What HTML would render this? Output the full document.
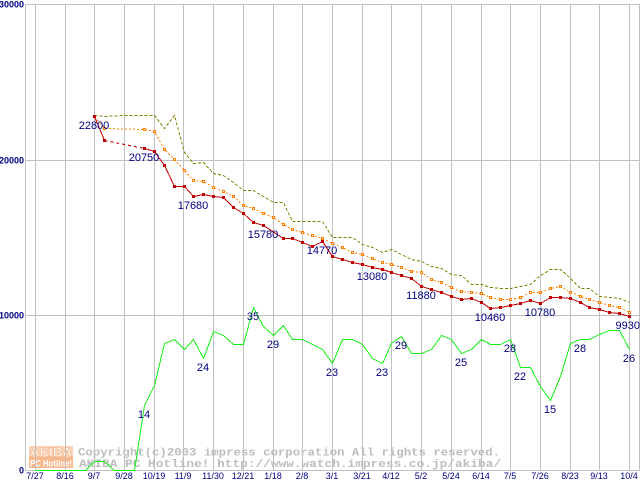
<!DOCTYPE html>
<html>
<head>
<meta charset="utf-8">
<style>
html,body{margin:0;padding:0;background:#fff;}
svg{display:block;}
</style>
</head>
<body>
<svg width="640" height="480" viewBox="0 0 640 480" xmlns="http://www.w3.org/2000/svg">
<defs>
<marker id="mr" markerWidth="3" markerHeight="3" refX="1.5" refY="1.5" markerUnits="userSpaceOnUse" overflow="visible">
<rect x="0" y="0" width="3" height="3" fill="#c00000" shape-rendering="crispEdges"/>
</marker>
<marker id="mo" markerWidth="3" markerHeight="3" refX="1.5" refY="1.5" markerUnits="userSpaceOnUse" overflow="visible">
<rect x="0" y="0" width="3" height="3" fill="#ff8000" shape-rendering="crispEdges"/>
<rect x="1" y="1" width="1" height="1" fill="#ffffff" shape-rendering="crispEdges"/>
</marker>
</defs>
<rect width="640" height="480" fill="#fff"/>

<!-- watermark -->
<rect x="29" y="446" width="44" height="11" fill="#fcd3b4"/>
<rect x="29" y="457" width="44" height="11" fill="#f8b88e"/>
<text x="30" y="456.5" font-family="Liberation Sans, sans-serif" font-weight="bold" font-size="12.5" fill="#fff" stroke="#f0a878" stroke-width="0.5" textLength="42" lengthAdjust="spacingAndGlyphs">AKIBA</text>
<text x="30" y="466.5" font-family="Liberation Sans, sans-serif" font-weight="bold" font-size="9" fill="#fff" textLength="42" lengthAdjust="spacingAndGlyphs">PC Hotline!</text>
<text x="78" y="455.5" font-family="Liberation Mono, monospace" font-weight="bold" font-size="11" fill="#bdbdbd" textLength="422" lengthAdjust="spacingAndGlyphs">Copyright(c)2003 impress corporation All rights reserved.</text>
<text x="79" y="467" font-family="Liberation Mono, monospace" font-weight="bold" font-size="11" fill="#bdbdbd" textLength="422" lengthAdjust="spacingAndGlyphs">AKIBA PC Hotline!  http://www.watch.impress.co.jp/akiba/</text>

<g transform="translate(0.5,0.5)" shape-rendering="crispEdges" stroke="#c0c0c0" stroke-width="1" fill="none">
<line x1="25" y1="4" x2="640" y2="4"/>
<line x1="25" y1="160" x2="640" y2="160"/>
<line x1="25" y1="315" x2="640" y2="315"/>
<line x1="25" y1="470" x2="640" y2="470"/>
<line x1="25" y1="4" x2="25" y2="470"/>
<line x1="639" y1="4" x2="639" y2="470"/>
<line x1="35" y1="4" x2="35" y2="470"/>
<line x1="65" y1="4" x2="65" y2="470"/>
<line x1="94" y1="4" x2="94" y2="470"/>
<line x1="124" y1="4" x2="124" y2="470"/>
<line x1="154" y1="4" x2="154" y2="470"/>
<line x1="183" y1="4" x2="183" y2="470"/>
<line x1="213" y1="4" x2="213" y2="470"/>
<line x1="243" y1="4" x2="243" y2="470"/>
<line x1="273" y1="4" x2="273" y2="470"/>
<line x1="302" y1="4" x2="302" y2="470"/>
<line x1="332" y1="4" x2="332" y2="470"/>
<line x1="362" y1="4" x2="362" y2="470"/>
<line x1="391" y1="4" x2="391" y2="470"/>
<line x1="421" y1="4" x2="421" y2="470"/>
<line x1="451" y1="4" x2="451" y2="470"/>
<line x1="481" y1="4" x2="481" y2="470"/>
<line x1="510" y1="4" x2="510" y2="470"/>
<line x1="540" y1="4" x2="540" y2="470"/>
<line x1="570" y1="4" x2="570" y2="470"/>
<line x1="599" y1="4" x2="599" y2="470"/>
<line x1="629" y1="4" x2="629" y2="470"/>
</g>

<g transform="translate(0.5,0.5)" fill="none" stroke-width="1" shape-rendering="crispEdges">
<!-- green count -->
<polyline stroke="#11f011" points="35,470 85,470 94,461 104,461 114,470 134,470 144,405 154,385 164,343 174,339 184,349 193,339 203,358 213,331 223,335 233,344 243,344 253,307 263,326 273,335 283,325 292,339 302,339 312,344 322,349 332,363 342,339 352,339 362,344 372,358 382,363 391,343 401,336 411,353 421,353 431,349 441,335 451,339 461,353 471,349 481,339 490,344 500,344 510,339 520,367 530,367 540,386 550,400 560,376 570,343 580,339 589,339 599,334 609,330 619,330 629,349"/>
<!-- olive max -->
<polyline stroke="#808000" stroke-dasharray="3 2" points="94,115 104,116 124,115 154,115 164,128 174,115 184,152 193,163 203,162 213,173 223,175 233,182 243,190 253,190 263,196 273,202 283,202 292,221 322,221 332,237 352,237 362,244 372,247 382,252 391,249 401,254 411,259 421,261 431,266 441,268 451,274 461,275 471,284 481,284 490,287 500,288 510,288 520,286 530,284 540,275 550,269 560,269 570,278 580,288 589,288 599,296 609,297 619,298 629,302"/>
<!-- orange avg -->
<polyline stroke="#ff8000" stroke-dasharray="2 2" marker-start="url(#mo)" marker-mid="url(#mo)" marker-end="url(#mo)" points="94,116 104,128 144,129 154,131 164,149 174,159 184,170 193,180 203,181 213,187 223,191 233,196 243,205 253,208 263,213 273,217 283,224 292,229 302,232 312,235 322,238 332,243 342,247 352,252 362,254 372,258 382,262 391,264 401,267 411,271 421,272 431,279 441,282 451,287 461,291 471,292 481,293 490,297 500,299 510,299 520,297 530,292 540,292 550,288 560,286 570,292 580,296 589,299 599,302 609,305 619,307 629,312"/>
<!-- red min -->
<polyline stroke="#c00000" marker-start="url(#mr)" marker-end="url(#mr)" points="94,116 104,140"/>
<polyline stroke="#c00000" stroke-dasharray="3 3" points="104,140 144,148"/>
<polyline stroke="#c00000" marker-start="url(#mr)" marker-mid="url(#mr)" marker-end="url(#mr)" points="144,148 154,151 164,165 174,186 184,186 193,196 203,194 213,196 223,197 233,207 243,213 253,222 263,225 283,238 292,238 302,242 312,246 322,241 332,256 342,259 352,262 362,264 372,267 382,269 391,272 401,275 411,278 421,286 431,289 441,292 451,296 461,299 471,298 481,302 490,308 500,307 510,305 520,303 530,300 540,303 550,297 560,297 570,298 580,302 589,307 599,309 609,312 619,313 629,316"/>
</g>

<!-- data labels -->
<g font-family="Liberation Sans, sans-serif" font-size="11" fill="#000080" text-anchor="middle">
<text x="94" y="129">22800</text>
<text x="144" y="161">20750</text>
<text x="193" y="209">17680</text>
<text x="263" y="238">15780</text>
<text x="322" y="254">14770</text>
<text x="372" y="280">13080</text>
<text x="421" y="299">11880</text>
<text x="490" y="321">10460</text>
<text x="540" y="316">10780</text>
<text x="640" y="329" text-anchor="end">9930</text>
<text x="144" y="418">14</text>
<text x="203" y="371">24</text>
<text x="253" y="320">35</text>
<text x="273" y="348">29</text>
<text x="332" y="376">23</text>
<text x="382" y="376">23</text>
<text x="401" y="349">29</text>
<text x="461" y="366">25</text>
<text x="510" y="352">28</text>
<text x="520" y="380">22</text>
<text x="550" y="413">15</text>
<text x="580" y="352">28</text>
<text x="629" y="362">26</text>
</g>

<!-- y axis labels -->
<g font-family="Liberation Sans, sans-serif" font-size="9" font-weight="bold" fill="#000080" text-anchor="end">
<text x="24" y="7.5">30000</text>
<text x="24" y="163.5">20000</text>
<text x="24" y="318.5">10000</text>
<text x="24" y="473.5">0</text>
</g>

<!-- x axis labels -->
<g font-family="Liberation Sans, sans-serif" font-size="9" fill="#000080" text-anchor="middle">
<text x="35" y="479">7/27</text>
<text x="65" y="479">8/16</text>
<text x="94" y="479">9/7</text>
<text x="124" y="479">9/28</text>
<text x="154" y="479">10/19</text>
<text x="183" y="479">11/9</text>
<text x="213" y="479">11/30</text>
<text x="243" y="479">12/21</text>
<text x="273" y="479">1/18</text>
<text x="302" y="479">2/8</text>
<text x="332" y="479">3/1</text>
<text x="362" y="479">3/21</text>
<text x="391" y="479">4/12</text>
<text x="421" y="479">5/2</text>
<text x="451" y="479">5/24</text>
<text x="481" y="479">6/14</text>
<text x="510" y="479">7/5</text>
<text x="540" y="479">7/26</text>
<text x="570" y="479">8/23</text>
<text x="599" y="479">9/13</text>
<text x="629" y="479">10/4</text>
</g>
</svg>
</body>
</html>
